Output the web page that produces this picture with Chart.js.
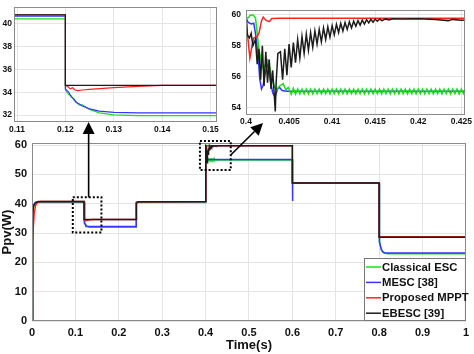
<!DOCTYPE html>
<html>
<head>
<meta charset="utf-8">
<script src="https://cdn.jsdelivr.net/npm/chart.js@4.4.1/dist/chart.umd.min.js"></script>
<style>
  html, body { margin: 0; padding: 0; background: #fff; }
  #wrap { position: relative; width: 474px; height: 354px; overflow: hidden; }
  canvas { position: absolute; top: 0; }
</style>
</head>
<body>
<div id="wrap">
  <canvas id="main" width="474" height="354" style="left:0"></canvas>
  <canvas id="zoom1" width="222" height="140" style="left:0"></canvas>
  <canvas id="zoom2" width="246" height="132" style="left:228px"></canvas>
</div>
<script>
"use strict";

// tick labels
var xTicks = [0, 0.1, 0.2, 0.3, 0.4, 0.5, 0.6, 0.7, 0.8, 0.9, 1];
var yTicks = [0, 10, 20, 30, 40, 50, 60];
var zoom1XTicks = [0.11, 0.12, 0.13, 0.14, 0.15];
var zoom1YTicks = [32, 34, 36, 38, 40];
var zoom2XTicks = [0.4, 0.405, 0.41, 0.415, 0.42, 0.425];
var zoom2YTicks = [54, 56, 58, 60];

var seriesNames = ["Classical ESC", "MESC [38]", "Proposed MPPT", "EBESC [39]"];

// [time (s), Ppv (W)]
var classicalEsc = [
  [0, 0], [0.001, 32], [0.003, 38.8], [0.008, 40.1], [0.015, 40.42], [0.12, 40.42],
  [0.12, 34.2], [0.1207, 33.8], [0.1212, 33.7], [0.1218, 33.3], [0.1222, 33.2], [0.1228, 32.9],
  [0.1235, 32.9], [0.125, 32.5], [0.127, 32.2], [0.13, 32.02], [0.135, 31.95], [0.24, 31.95],
  [0.24, 39.8], [0.2405, 40.2], [0.243, 40.42], [0.4, 40.42],
  [0.4, 59.8], [0.40027, 59.8], [0.40045, 59.95], [0.4008, 60.0], [0.4011, 59.8], [0.4013, 58.8],
  [0.4015, 57.8], [0.4018, 56.9], [0.402, 56.5], [0.4022, 56.7], [0.4025, 57.05], [0.4027, 56.7],
  [0.403, 55.95], [0.4033, 55.35], [0.40356, 55.15], [0.4038, 55.35], [0.40432, 55.55],
  [0.40462, 55.15], [0.40492, 55.3],
  [0.40525, 54.86], [0.4055, 55.24], [0.40575, 54.87], [0.406, 55.21], [0.40625, 54.88], [0.4065, 55.2],
  [0.40675, 54.88], [0.407, 55.2], [0.40725, 54.89], [0.4075, 55.2], [0.40775, 54.88], [0.408, 55.19],
  [0.40825, 54.89], [0.4085, 55.2], [0.40875, 54.88], [0.409, 55.19], [0.40925, 54.89], [0.4095, 55.2],
  [0.40975, 54.88], [0.41, 55.19], [0.41025, 54.89], [0.4105, 55.2], [0.41075, 54.88], [0.411, 55.19],
  [0.41125, 54.89], [0.4115, 55.2], [0.41175, 54.88], [0.412, 55.19], [0.41225, 54.89], [0.4125, 55.2],
  [0.41275, 54.88], [0.413, 55.19], [0.41325, 54.89], [0.4135, 55.2], [0.41375, 54.88], [0.414, 55.19],
  [0.41425, 54.89], [0.4145, 55.2], [0.41475, 54.88], [0.415, 55.19], [0.41525, 54.89], [0.4155, 55.2],
  [0.41575, 54.88], [0.416, 55.19], [0.41625, 54.89], [0.4165, 55.2], [0.41675, 54.88], [0.417, 55.19],
  [0.41725, 54.89], [0.4175, 55.2], [0.41775, 54.88], [0.418, 55.19], [0.41825, 54.89], [0.4185, 55.2],
  [0.41875, 54.88], [0.419, 55.19], [0.41925, 54.89], [0.4195, 55.2], [0.41975, 54.88], [0.42, 55.19],
  [0.42025, 54.89], [0.4205, 55.2], [0.42075, 54.88], [0.421, 55.19], [0.42125, 54.89], [0.4215, 55.2],
  [0.42175, 54.88], [0.422, 55.19], [0.42225, 54.89], [0.4225, 55.2], [0.42275, 54.88], [0.423, 55.19],
  [0.42325, 54.89], [0.4235, 55.2], [0.42375, 54.88], [0.424, 55.19], [0.42425, 54.89], [0.4245, 55.2],
  [0.42475, 54.88], [0.425, 55.19], [0.42525, 54.89], [0.4255, 55.2], [0.42575, 54.88],
  [0.6, 55.0], [0.6, 47.1], [0.8, 47.1],
  [0.8, 28.0], [0.8015, 26.8], [0.803, 25.4], [0.805, 24.3], [0.808, 23.5], [0.812, 23.1], [0.82, 22.95], [1, 22.95]
];

var mesc = [
  [0, 0], [0.001, 34], [0.003, 39.4], [0.008, 40.4], [0.015, 40.65], [0.12, 40.65],
  [0.12, 34.3], [0.1207, 34.0], [0.1212, 33.6], [0.1218, 33.4], [0.1222, 33.1], [0.1228, 33.0],
  [0.1235, 32.8], [0.125, 32.55], [0.127, 32.35], [0.13, 32.25], [0.135, 32.2], [0.24, 32.2],
  [0.24, 40.0], [0.2405, 40.4], [0.243, 40.65], [0.4, 40.65],
  [0.4, 59.8], [0.40027, 59.5], [0.4006, 59.4], [0.4009, 59.45], [0.4011, 58.8], [0.4014, 57.4],
  [0.4016, 55.85], [0.4018, 55.2], [0.402, 55.45], [0.4022, 56.15], [0.40258, 56.9], [0.4028, 55.85],
  [0.4031, 54.95], [0.40337, 54.7], [0.40367, 55.2], [0.4039, 55.3], [0.4042, 55.1], [0.4048, 55.05],
  [0.6, 55.05], [0.6, 40.9], [0.6012, 47.0], [0.602, 47.1], [0.8, 47.1],
  [0.8, 28.3], [0.8015, 27.0], [0.803, 25.6], [0.805, 24.5], [0.808, 23.7], [0.812, 23.3], [0.82, 23.15], [1, 23.15]
];

var proposedMppt = [
  [0, 0], [0.001, 18], [0.002, 27], [0.003, 32], [0.005, 36.5], [0.008, 39.3], [0.012, 40.4], [0.02, 40.75], [0.12, 40.78],
  [0.12, 34.6], [0.1205, 34.5], [0.121, 34.3], [0.1215, 34.4], [0.122, 34.2], [0.1225, 34.15], [0.1235, 34.2],
  [0.125, 34.25], [0.13, 34.4], [0.135, 34.52], [0.14, 34.6], [0.24, 34.62],
  [0.24, 40.0], [0.2405, 40.4], [0.243, 40.7], [0.4, 40.75],
  [0.4, 59.8], [0.40027, 58.2], [0.40045, 57.2], [0.4007, 58.0], [0.4009, 58.5], [0.4013, 58.6], [0.4015, 58.8],
  [0.4018, 59.6], [0.402, 59.85], [0.4023, 59.65], [0.4027, 59.55], [0.403, 59.75], [0.4039, 59.77], [0.6, 59.78],
  [0.6, 47.1], [0.8, 47.1], [0.8, 28.7], [1, 28.7]
];

var ebesc = [
  [0, 0], [0.001, 30], [0.002, 37], [0.004, 39.5], [0.008, 40.4], [0.015, 40.75], [0.12, 40.78],
  [0.12, 34.6], [0.24, 34.6],
  [0.24, 39.8], [0.2408, 38.5], [0.2418, 40.2], [0.245, 40.7], [0.4, 40.75],
  [0.4, 60.1], [0.40015, 58.7], [0.4004, 58.5], [0.4006, 58.8], [0.4008, 58.0], [0.4011, 58.4], [0.4013, 56.8],
  [0.4015, 57.8], [0.4017, 55.8], [0.4019, 58.0], [0.4021, 55.4], [0.4023, 57.6], [0.4025, 55.6], [0.4027, 57.1],
  [0.4029, 55.2], [0.4031, 56.4], [0.4033, 54.65], [0.4034, 53.75], [0.4035, 55.6], [0.4037, 57.5],
  [0.404, 57.6], [0.40425, 55.8], [0.4045, 57.8], [0.40475, 56.1], [0.405, 58.1], [0.40525, 56.6],
  [0.4055, 58.2], [0.40575, 56.9], [0.406, 58.4], [0.40625, 57.2], [0.4065, 58.6], [0.40675, 57.5],
  [0.407, 58.75], [0.40725, 57.7], [0.4075, 58.85], [0.40775, 57.9], [0.408, 58.95], [0.40825, 58.1],
  [0.4085, 59.05], [0.40875, 58.25], [0.409, 59.15], [0.40925, 58.4], [0.4095, 59.22], [0.40975, 58.55],
  [0.41, 59.3], [0.41025, 58.7], [0.4105, 59.38], [0.41075, 58.85], [0.411, 59.45], [0.41125, 58.95],
  [0.4115, 59.5], [0.41175, 59.05], [0.412, 59.55], [0.41225, 59.15], [0.4125, 59.58], [0.41275, 59.25],
  [0.413, 59.62], [0.41325, 59.33], [0.4135, 59.65], [0.41375, 59.4], [0.414, 59.68], [0.41425, 59.47],
  [0.4145, 59.7], [0.41475, 59.52], [0.415, 59.72], [0.41525, 59.58],
  [0.4155, 59.72], [0.4158, 59.62], [0.4162, 59.73], [0.4166, 59.66], [0.417, 59.74], [0.418, 59.72],
  [0.42, 59.74], [0.422, 59.7], [0.4235, 59.62], [0.424, 59.7], [0.425, 59.65], [0.43, 59.75], [0.6, 59.75],
  [0.6, 47.1], [0.8, 47.1], [0.8, 28.6], [1, 28.6]
];

var seriesPoints = [classicalEsc, mesc, proposedMppt, ebesc];
var seriesColors = ["#19e019", "#3535ff", "#ff2222", "#1c1c1c"];

Chart.defaults.font.family = '"Liberation Sans", Arial, sans-serif';
Chart.defaults.color = "#111";

function datasets(drawOrder, width) {
    return drawOrder.map(function (i) {
        return {
            label: seriesNames[i],
            data: seriesPoints[i].map(function (p) { return {x: p[0], y: p[1]}; }),
            borderColor: seriesColors[i],
            borderWidth: width,
            pointRadius: 0,
            tension: 0,
            fill: false
        };
    });
}

function axis(ticks, min, max, o) {
    return {
        type: "linear",
        min: min,
        max: max,
        afterBuildTicks: function (s) { s.ticks = ticks.map(function (v) { return {value: v}; }); },
        afterFit: function (s) { if (s.isHorizontal()) s.height = o.size; else s.width = o.size; },
        grid: {color: "#e4e4e4", drawTicks: false},
        border: {display: false},
        ticks: {
            padding: o.pad, autoSkip: false, maxRotation: 0, color: "#111",
            font: {size: o.font, weight: "bold"},
            callback: function (v) { return String(v); }
        },
        title: o.title ? {
            display: true, text: o.title, color: "#111",
            font: {size: 13, weight: "bold"}, padding: o.titlePad
        } : {display: false}
    };
}

// grey box round the plot area
var frame = {
    id: "frame",
    afterDatasetsDraw: function (chart) {
        var a = chart.chartArea, ctx = chart.ctx;
        ctx.save();
        ctx.strokeStyle = "#8a8a8a";
        ctx.lineWidth = 1;
        ctx.strokeRect(Math.round(a.left) + 0.5, Math.round(a.top) + 0.5,
            Math.round(a.right - a.left) - 1, Math.round(a.bottom - a.top) - 1);
        ctx.restore();
    }
};

function arrow(ctx, x1, y1, x2, y2) {
    var ang = Math.atan2(y2 - y1, x2 - x1), len = 12, half = 6;
    var bx = x2 - len * Math.cos(ang), by = y2 - len * Math.sin(ang);
    ctx.beginPath();
    ctx.moveTo(x1, y1);
    ctx.lineTo(bx, by);
    ctx.lineWidth = 1.6;
    ctx.stroke();
    ctx.beginPath();
    ctx.moveTo(x2, y2);
    ctx.lineTo(bx + half * Math.sin(ang), by - half * Math.cos(ang));
    ctx.lineTo(bx - half * Math.sin(ang), by + half * Math.cos(ang));
    ctx.closePath();
    ctx.fill();
}

// zoom boxes, arrows to the insets, legend
var overlay = {
    id: "overlay",
    afterDraw: function (chart) {
        var ctx = chart.ctx, xs = chart.scales.x, ys = chart.scales.y;
        var boxes = [[0.094, 0.16, 30.2, 42.2], [0.387, 0.458, 51.5, 61.4]];
        ctx.save();
        ctx.strokeStyle = "#000";
        ctx.fillStyle = "#000";
        ctx.lineWidth = 2;
        ctx.setLineDash([2, 2]);
        boxes.forEach(function (b) {
            var l = xs.getPixelForValue(b[0]), r = xs.getPixelForValue(b[1]);
            var t = ys.getPixelForValue(b[3]), btm = ys.getPixelForValue(b[2]);
            ctx.strokeRect(l, t, r - l, btm - t);
        });
        ctx.setLineDash([]);
        arrow(ctx, xs.getPixelForValue(0.1305), ys.getPixelForValue(42.2), xs.getPixelForValue(0.1305), 122);
        arrow(ctx, xs.getPixelForValue(0.458), ys.getPixelForValue(56.6), 263, 123);

        var a = chart.chartArea, lx = 364, ly = 258;
        ctx.fillStyle = "#fff";
        ctx.fillRect(lx, ly, a.right - lx, a.bottom - ly);
        ctx.strokeStyle = "#777";
        ctx.lineWidth = 1;
        ctx.strokeRect(lx + 0.5, ly + 0.5, a.right - lx - 1, a.bottom - ly - 1);
        ctx.font = 'bold 11.3px "Liberation Sans", Arial, sans-serif';
        ctx.textBaseline = "middle";
        seriesNames.forEach(function (name, i) {
            var y = 267 + i * 15.4;
            ctx.strokeStyle = seriesColors[i];
            ctx.lineWidth = 1.5;
            ctx.beginPath();
            ctx.moveTo(366, y);
            ctx.lineTo(381, y);
            ctx.stroke();
            ctx.fillStyle = "#111";
            ctx.fillText(name, 382, y + 0.5);
        });
        ctx.restore();
    }
};

function baseOptions(padding, x, y) {
    return {
        responsive: false,
        animation: false,
        devicePixelRatio: 1,
        layout: {padding: padding},
        plugins: {legend: {display: false}, tooltip: {enabled: false}},
        scales: {x: x, y: y}
    };
}

new Chart(document.getElementById("main"), {
    type: "line",
    data: {datasets: datasets([3, 2, 1, 0], 1.5)},
    options: baseOptions({left: 0, top: 143, right: 5, bottom: 0},
        axis(xTicks, 0, 1, {size: 33, pad: 5, font: 11, title: "Time(s)", titlePad: {top: 0, bottom: 1}}),
        axis(yTicks, 0, 60.7, {size: 32, pad: 5, font: 11, title: "Ppv(W)", titlePad: 0})),
    plugins: [frame, overlay]
});

new Chart(document.getElementById("zoom1"), {
    type: "line",
    data: {datasets: datasets([3, 2, 1, 0], 1.2)},
    options: baseOptions({left: 0, top: 4, right: 5, bottom: 0},
        axis(zoom1XTicks, 0.10938, 0.15125, {size: 18, pad: 3, font: 8.5}),
        axis(zoom1YTicks, 31.4, 41.45, {size: 14, pad: 2, font: 8.5})),
    plugins: [frame]
});

new Chart(document.getElementById("zoom2"), {
    type: "line",
    data: {datasets: datasets([3, 2, 0, 1], 1.5)},
    options: baseOptions({left: 0, top: 2, right: 3, bottom: 0},
        axis(zoom2XTicks, 0.4, 0.42545, {size: 17, pad: 2, font: 8.5}),
        axis(zoom2YTicks, 53.52, 60.3, {size: 18, pad: 5, font: 8.5})),
    plugins: [frame]
});
</script>
</body>
</html>
